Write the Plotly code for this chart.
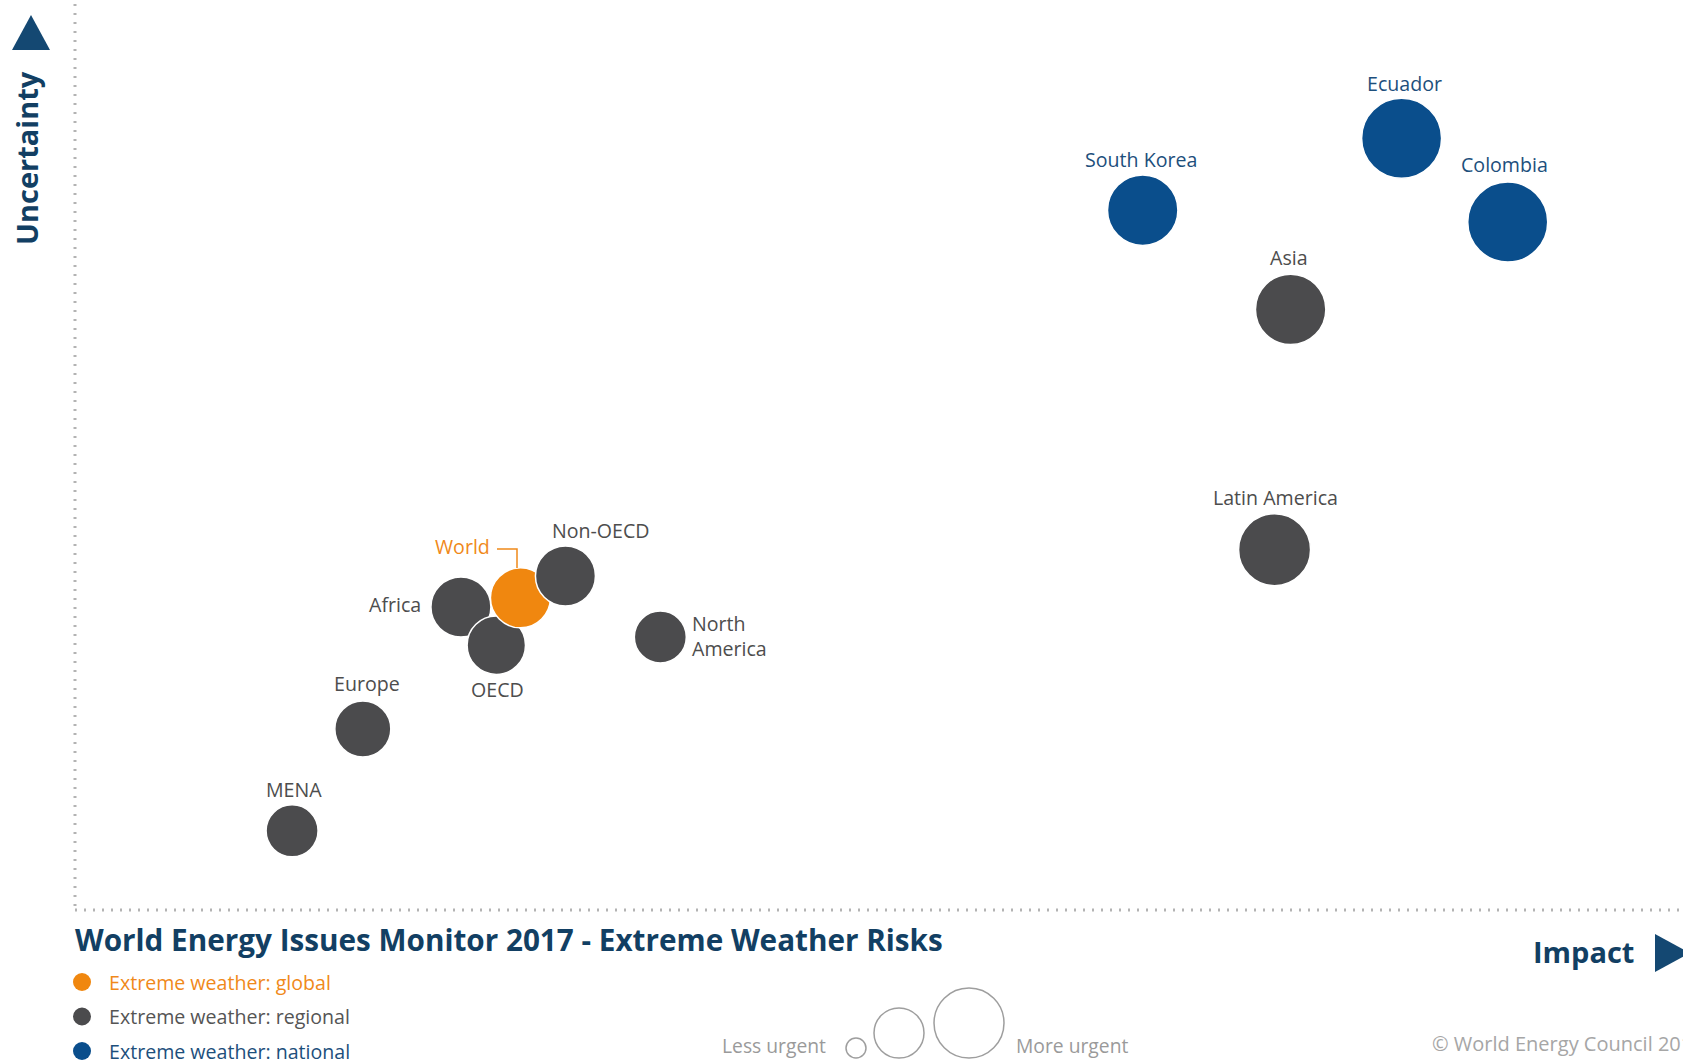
import plotly.graph_objects as go

# ---------------- data ----------------
names = ["MENA", "Europe", "Africa", "OECD", "World", "Non-OECD", "North America",
         "Latin America", "Asia", "South Korea", "Ecuador", "Colombia"]
groups = ["regional", "regional", "regional", "regional", "global", "regional", "regional",
          "regional", "regional", "national", "national", "national"]
impact = [1.35, 1.79, 2.40, 2.62, 2.77, 3.05, 3.64, 7.46, 7.56, 6.64, 8.25, 8.91]
uncertainty = [0.87, 1.99, 3.33, 2.91, 3.43, 3.67, 3.00, 3.96, 6.60, 7.69, 8.48, 7.56]
urgency = [6.5, 7.0, 7.5, 7.3, 7.5, 7.5, 6.5, 9.0, 8.8, 8.8, 10.0, 10.0]

legend_labels = ["Extreme weather: global", "Extreme weather: regional", "Extreme weather: national"]
legend_groups = ["global", "regional", "national"]

# ---------------- styles ----------------
W, H = 1683, 1060
FONT = "Open Sans"
NAVY = "#123f63"
fill = {"global": "#f0870f", "regional": "#4b4b4d", "national": "#0a4e8c"}
label_col = {"global": "#f0891a", "regional": "#4d4d4d", "national": "#1d4f7c"}

# label offsets (px) relative to bubble centre: (xshift, yshift, xanchor)
label_pos = {
    "Ecuador": (3, 55, "center"), "South Korea": (-2, 51, "center"),
    "Colombia": (-3, 58, "center"), "Asia": (-2, 52, "center"),
    "Latin America": (1, 52, "center"), "North America": (30, 1, "left"),
    "Non-OECD": (36, 46, "center"), "World": (-28, 51, "right"),
    "Africa": (-38, 2, "right"), "OECD": (1, -44, "center"),
    "Europe": (4, 45, "center"), "MENA": (2, 41, "center"),
}

def px(x):
    return x / W

def py(y):
    return 1 - y / H

fig = go.Figure()
fig.add_trace(go.Scatter(
    x=impact, y=uncertainty, mode="markers",
    marker=dict(size=urgency, sizemode="diameter", sizeref=1 / 8,
                color=[fill[g] for g in groups],
                line=dict(color="white", width=1.5), opacity=1),
    hovertext=names, hoverinfo="text", showlegend=False,
))

annotations = []
for n, g, xv, yv in zip(names, groups, impact, uncertainty):
    xs, ys, xa = label_pos[n]
    text = "North<br>America" if n == "North America" else n
    annotations.append(dict(
        x=xv, y=yv, xref="x", yref="y", text=text, showarrow=False,
        xshift=xs, yshift=ys, xanchor=xa, yanchor="middle", align="left",
        font=dict(family=FONT, size=19.6, color=label_col[g]),
    ))

shapes = []
# dotted axes
shapes.append(dict(type="line", xref="paper", yref="paper", x0=px(75), x1=px(75),
                   y0=py(4), y1=py(910), line=dict(color="#b3b3b3", width=3, dash="2px,7px")))
shapes.append(dict(type="line", xref="paper", yref="paper", x0=px(75), x1=px(1683),
                   y0=py(910), y1=py(910), line=dict(color="#b3b3b3", width=3, dash="2px,7px")))
# axis arrows
shapes.append(dict(type="path", xref="paper", yref="paper",
                   path=f"M {px(12)} {py(50)} L {px(31)} {py(15)} L {px(50)} {py(50)} Z",
                   fillcolor="#144872", line=dict(width=0)))
shapes.append(dict(type="path", xref="paper", yref="paper",
                   path=f"M {px(1655)} {py(934)} L {px(1690)} {py(953)} L {px(1655)} {py(972)} Z",
                   fillcolor="#144872", line=dict(width=0)))
# World connector
shapes.append(dict(type="path", xref="paper", yref="paper",
                   path=f"M {px(497)} {py(549)} L {px(517)} {py(549)} L {px(517)} {py(568)}",
                   line=dict(color="#f0891a", width=1.5)))

# axis titles
annotations.append(dict(x=px(27), y=py(158), xref="paper", yref="paper", text="<b>Uncertainty</b>",
                        showarrow=False, textangle=-90, xanchor="center", yanchor="middle",
                        font=dict(family=FONT, size=29, color=NAVY)))
annotations.append(dict(x=px(1636), y=py(951), xref="paper", yref="paper", text="<b>Impact</b>",
                        showarrow=False, xanchor="right", yanchor="middle",
                        font=dict(family=FONT, size=29, color=NAVY)))
# chart title
annotations.append(dict(x=px(73), y=py(939), xref="paper", yref="paper",
                        text="<b>World Energy Issues Monitor 2017 - Extreme Weather Risks</b>",
                        showarrow=False, xanchor="left", yanchor="middle",
                        font=dict(family=FONT, size=29.7, color=NAVY)))

# colour legend
for i, (lab, g) in enumerate(zip(legend_labels, legend_groups)):
    cy = 982 + i * 34.5
    shapes.append(dict(type="circle", xref="paper", yref="paper",
                       x0=px(73), x1=px(91), y0=py(cy - 9), y1=py(cy + 9),
                       fillcolor=fill[g], line=dict(width=0)))
    annotations.append(dict(x=px(107), y=py(cy), xref="paper", yref="paper", text=lab,
                            showarrow=False, xanchor="left", yanchor="middle",
                            font=dict(family=FONT, size=19.6,
                                      color=label_col[g] if g != "regional" else "#555555")))

# size legend
for cx, r in [(856, 10), (899, 25), (969, 35)]:
    shapes.append(dict(type="circle", xref="paper", yref="paper",
                       x0=px(cx - r), x1=px(cx + r), y0=py(1058 - 2 * r), y1=py(1058),
                       line=dict(color="#9e9e9e", width=1.5), fillcolor="rgba(0,0,0,0)"))
annotations.append(dict(x=px(828), y=py(1045), xref="paper", yref="paper", text="Less urgent",
                        showarrow=False, xanchor="right", yanchor="middle",
                        font=dict(family=FONT, size=19.3, color="#9a9a9a")))
annotations.append(dict(x=px(1014), y=py(1045), xref="paper", yref="paper", text="More urgent",
                        showarrow=False, xanchor="left", yanchor="middle",
                        font=dict(family=FONT, size=19.3, color="#9a9a9a")))
# copyright
annotations.append(dict(x=px(1430), y=py(1043), xref="paper", yref="paper",
                        text="© World Energy Council 2017",
                        showarrow=False, xanchor="left", yanchor="middle",
                        font=dict(family=FONT, size=20, color="#a6a6a6")))

fig.update_layout(
    width=W, height=H, margin=dict(l=0, r=0, t=0, b=0),
    paper_bgcolor="white", plot_bgcolor="white",
    xaxis=dict(domain=[75 / W, 1], range=[0, 10], visible=False, fixedrange=True),
    yaxis=dict(domain=[150 / H, 1], range=[0, 10], visible=False, fixedrange=True),
    shapes=shapes, annotations=annotations, showlegend=False,
)

fig.write_html("out.html", config={"displayModeBar": False},
               post_script="document.body.style.margin='0';document.body.style.overflow='hidden';")
